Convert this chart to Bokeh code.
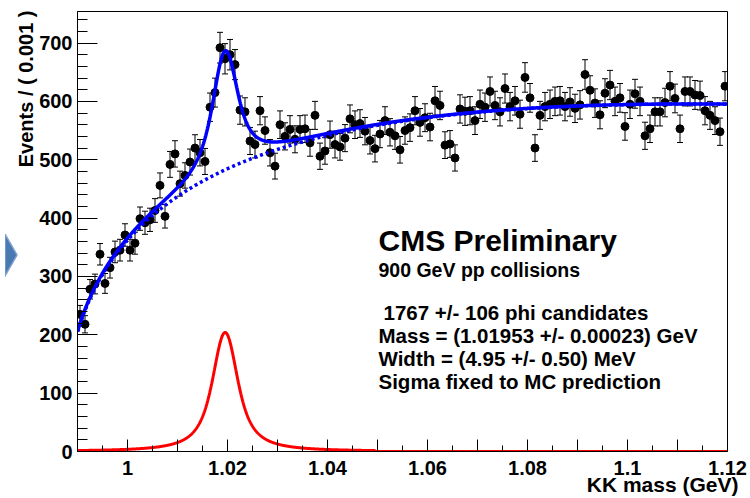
import numpy as np
from math import pi
from bokeh.plotting import figure
from bokeh.layouts import column
from bokeh.models import (Range1d, FixedTicker, SingleIntervalTicker, Label, Title,
                          Whisker, TeeHead, ColumnDataSource, Div)
from bokeh.embed import file_html
from bokeh.resources import INLINE

# ---------------- data ----------------
bin_width = 0.001
mass_lo, mass_hi = 0.99, 1.12
counts = [235, 218, 278, 287, 338, 288, 315, 342, 345, 371,
          345, 357, 399, 392, 397, 413, 456, 403, 492, 510,
          459, 473, 496, 520, 512, 497, 590, 615, 692, 673,
          680, 663, 585, 582, 532, 526, 584, 550, 512, 489,
          560, 540, 552, 535, 552, 553, 529, 576, 506, 515,
          543, 526, 522, 537, 570, 560, 562, 549, 533, 519,
          544, 567, 547, 541, 517, 550, 555, 584, 564, 572,
          556, 601, 593, 525, 527, 503, 587, 583, 584, 567,
          595, 590, 617, 593, 582, 622, 591, 601, 578, 641,
          606, 520, 576, 591, 595, 600, 601, 591, 599, 588,
          594, 646, 619, 597, 577, 614, 628, 600, 606, 557,
          595, 613, 600, 541, 553, 582, 582, 598, 626, 605,
          553, 617, 617, 611, 610, 584, 576, 567, 548, 626]

# fit results quoted on the chart
n_signal = 1767
phi_mass = 1.01953
phi_width = 0.00495
mc_sigma = 0.0011          # fixed to MC prediction (estimated)
kk_threshold = 2 * 0.493677
signal_curve_max = 1.0495  # red curve drawn up to here, then at zero

# background curve (mass, events/bin)
bg_knot_mass = [0.9900, 0.9955, 1.0004, 1.0024, 1.0064, 1.0131, 1.0198,
                1.0258, 1.0345, 1.0395, 1.0656, 1.0927, 1.1198]
bg_knot_vals = [216, 294, 347, 384, 422, 467, 491, 508, 530, 540, 568, 589, 600]

y_ticks_interval = 100
x_major_ticks = [round(1.0 + 0.01 * i, 2) for i in range(13)]
x_minor_ticks = [round(0.995 + 0.01 * i, 3) for i in range(13)]
x_tick_labels = {t: (f"{t:g}" if round(t * 100) % 2 == 0 else "") for t in x_major_ticks}

info_lines = [" 1767 +/- 106  phi candidates",
              "Mass = (1.01953 +/- 0.00023) GeV",
              "Width = (4.95 +/- 0.50) MeV",
              "Sigma fixed to MC prediction"]

# ---------------- derived curves ----------------
counts_a = np.array(counts, dtype=float)
centers = mass_lo + bin_width * (np.arange(len(counts)) + 0.5)
err = np.sqrt(counts_a)
src = ColumnDataSource(dict(x=centers, y=counts_a, lo=counts_a - err, hi=counts_a + err))

step = 0.00005
grid_ext = np.arange(mass_lo - 0.03, mass_hi + 0.03 + step / 2, step)
bw = (phi_width / (2 * pi)) / ((grid_ext - phi_mass) ** 2 + phi_width ** 2 / 4)
kx = np.arange(-6 * mc_sigma, 6 * mc_sigma + step / 2, step)
gk = np.exp(-0.5 * (kx / mc_sigma) ** 2)
gk /= gk.sum()
voigt = np.convolve(bw, gk, mode="same")
inr = (grid_ext >= mass_lo) & (grid_ext <= mass_hi)
m = grid_ext[inr]
pdf = voigt[inr]
pdf /= np.trapezoid(pdf, m)
signal = n_signal * bin_width * pdf

# smooth background through the read knots: cubic in sqrt(m - threshold)
s_knot = np.sqrt(np.array(bg_knot_mass) - kk_threshold)
A = np.vstack([s_knot ** k for k in range(4)]).T
coef, *_ = np.linalg.lstsq(A, np.array(bg_knot_vals, float), rcond=None)
s = np.sqrt(m - kk_threshold)
bg = sum(coef[k] * s ** k for k in range(4))
total = bg + signal
signal_drawn = np.where(m <= signal_curve_max, signal, 0.0)

# ---------------- figure ----------------
p = figure(width=750, height=498, x_range=Range1d(mass_lo, mass_hi), y_range=Range1d(0, 754),
           output_backend="svg", toolbar_location=None,
           min_border_left=77, min_border_right=23, min_border_top=11, min_border_bottom=47)
p.xgrid.visible = False
p.ygrid.visible = False
p.outline_line_color = "black"
p.outline_line_width = 1
p.background_fill_color = "white"
p.border_fill_color = "white"

FONT = "Liberation Sans"
for ax in (p.xaxis[0], p.yaxis[0]):
    ax.axis_line_color = "black"
    ax.major_tick_line_color = "black"
    ax.minor_tick_line_color = "black"
    ax.major_tick_out = 0
    ax.minor_tick_out = 0
    ax.major_label_text_font = FONT
    ax.major_label_text_font_style = "bold"
    ax.major_label_text_font_size = "20px"
    ax.major_label_text_color = "black"

p.xaxis.ticker = FixedTicker(ticks=x_major_ticks, minor_ticks=x_minor_ticks)
p.xaxis.major_label_overrides = x_tick_labels
p.xaxis.major_tick_in = 12
p.xaxis.minor_tick_in = 6
p.xaxis.major_label_standoff = 9

p.yaxis.ticker = SingleIntervalTicker(interval=y_ticks_interval, num_minor_ticks=5)
p.yaxis.major_tick_in = 20
p.yaxis.minor_tick_in = 10
p.yaxis.major_label_standoff = 5

wh = Whisker(base="x", lower="lo", upper="hi", source=src, line_color="black", line_width=1,
             upper_head=TeeHead(size=6, line_color="black", line_width=1),
             lower_head=TeeHead(size=6, line_color="black", line_width=1))
p.add_layout(wh)
p.scatter("x", "y", source=src, size=8, color="black")

p.line(m, signal_drawn, line_color="red", line_width=3)
p.line(m, bg, line_color="blue", line_width=3.5, line_dash="3 3")
p.line(m, total, line_color="blue", line_width=3.5)

# texts inside the frame (positions relative to the frame, in pixels)
p.add_layout(Label(x=301, y=211, x_units="screen", y_units="screen", text="CMS Preliminary",
                   text_font=FONT, text_font_style="bold", text_font_size="30px",
                   text_color="black", text_baseline="middle"))
p.add_layout(Label(x=301, y=182, x_units="screen", y_units="screen", text="900 GeV pp collisions",
                   text_font=FONT, text_font_style="bold", text_font_size="19.5px",
                   text_color="black", text_baseline="middle"))
for i, line in enumerate(info_lines):
    p.add_layout(Label(x=301 + (5 if line.startswith(" ") else 0), y=139 - 23 * i,
                       x_units="screen", y_units="screen", text=line,
                       text_font=FONT, text_font_style="bold", text_font_size="20.5px",
                       text_color="black", text_baseline="middle"))


def make_title(text, size, standoff, offset):
    t = Title(text=text, align="right", text_font=FONT, text_font_style="bold",
              text_font_size=size, text_color="black", offset=offset)
    try:
        t.standoff = standoff
    except Exception:
        t.standoff = 0
    return t


p.add_layout(make_title("Events / ( 0.001 )", "20px", 0, -1), "left")
p.add_layout(make_title("KK mass (GeV)", "21px", -14, -11), "below")

# slide decoration at the left edge (blue chevron tip)
chevron = Div(text='<svg width="14" height="44" style="display:block">'
                   '<polygon points="0,0 12,21 0,42" fill="#4a78b0" stroke="#7da2cf" stroke-width="1.5"/>'
                   '</svg>',
              width=14, height=44,
              stylesheets=[":host { position: absolute !important; left: 0px !important; "
                           "top: 229px !important; z-index: 10; }"])

layout = column(p, chevron)
open("out.html", "w").write(file_html(layout, INLINE))
